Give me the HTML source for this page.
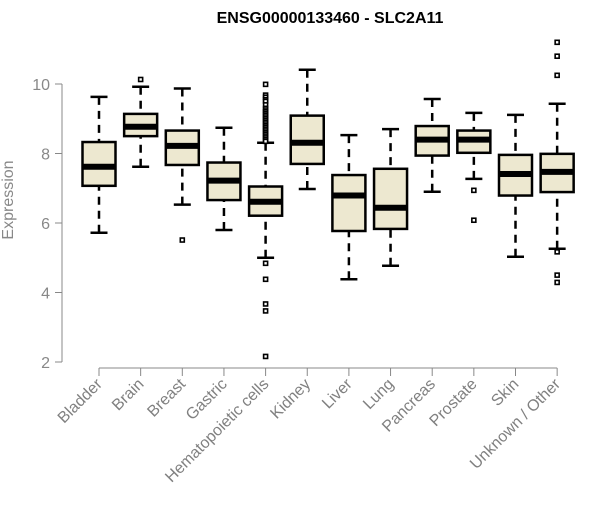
<!DOCTYPE html>
<html><head><meta charset="utf-8"><style>
body{margin:0;background:#fff;}
svg{font-family:"Liberation Sans",sans-serif;}
</style></head><body>
<svg id="chart" width="600" height="500">
<text x="330" y="23" text-anchor="middle" font-weight="bold" font-size="16">ENSG00000133460 - SLC2A11</text>
<text transform="translate(13,200) rotate(-90)" text-anchor="middle" font-size="16" fill="#888">Expression</text>
<g id="axes"></g><g id="marks"></g>
</svg>
<script>
const categories=["Bladder","Brain","Breast","Gastric","Hematopoietic cells","Kidney","Liver","Lung","Pancreas","Prostate","Skin","Unknown / Other"];
const whiskerLow=[5.72,7.62,6.53,5.8,5.0,6.98,4.38,4.77,6.9,7.27,5.03,5.26];
const q1=[7.07,8.5,7.67,6.66,6.21,7.7,5.77,5.83,7.94,8.02,6.79,6.89];
const medians=[7.62,8.77,8.22,7.22,6.61,8.31,6.79,6.44,8.4,8.4,7.41,7.47];
const q3=[8.33,9.14,8.66,7.74,7.05,9.09,7.38,7.56,8.79,8.66,7.96,7.99];
const whiskerHigh=[9.63,9.92,9.87,8.74,8.31,10.41,8.53,8.7,9.57,9.17,9.11,9.43];
const outliers=[[],[10.13],[5.51],[],[9.99,9.68,9.62,9.55,9.5,9.4,9.3,9.25,9.2,9.15,9.1,9.05,9.0,8.95,8.9,8.85,8.8,8.75,8.7,8.65,8.6,8.55,8.5,8.45,8.4,8.35,4.84,4.38,3.67,3.47,2.16],[],[],[],[],[6.94,6.08],[],[11.2,10.8,10.25,5.17,4.5,4.29]];
const yTicks=[2,4,6,8,10];
const NS="http://www.w3.org/2000/svg";
const y=v=>362-(v-2)*34.75;
const x=i=>99+i*41.65;
function mk(parent,tag,attrs){const e=document.createElementNS(NS,tag);for(const k in attrs)e.setAttribute(k,attrs[k]);parent.appendChild(e);return e;}
const axes=document.getElementById('axes'),marks=document.getElementById('marks');
let ya=mk(axes,'line',{x1:62,x2:62,y1:y(2),y2:y(10),stroke:'#888'});


yTicks.forEach(t=>{
  let l=mk(axes,'line',{x1:55,x2:62,y1:y(t),y2:y(t),stroke:'#888'});
  
  
  let tx=mk(axes,'text',{x:50,y:y(t)+6,'text-anchor':'end','font-size':16,fill:'#888'});
  tx.textContent=t;
  
  
});
let xa=mk(axes,'line',{x1:x(0),x2:x(11),y1:368,y2:368,stroke:'#888'});


categories.forEach((c,i)=>{
  const cx=x(i);
  let t=mk(axes,'line',{x1:cx,x2:cx,y1:368,y2:376,stroke:'#888'});
  
  
  let tx=mk(axes,'text',{transform:`translate(${cx+4},${385}) rotate(-45)`,'text-anchor':'end','font-size':16,fill:'#808080'});
  tx.textContent=c;
  
  
  const g=mk(marks,'g',{});
  
  
  mk(g,'line',{x1:cx,x2:cx,y1:y(whiskerHigh[i]),y2:y(q3[i]),stroke:'#000','stroke-width':2.5,'stroke-dasharray':'8,6'});
  mk(g,'line',{x1:cx,x2:cx,y1:y(whiskerLow[i]),y2:y(q1[i]),stroke:'#000','stroke-width':2.5,'stroke-dasharray':'8,6'});
  mk(g,'line',{x1:cx-8.5,x2:cx+8.5,y1:y(whiskerHigh[i]),y2:y(whiskerHigh[i]),stroke:'#000','stroke-width':2.5});
  mk(g,'line',{x1:cx-8.5,x2:cx+8.5,y1:y(whiskerLow[i]),y2:y(whiskerLow[i]),stroke:'#000','stroke-width':2.5});
  mk(g,'rect',{x:cx-16.5,y:y(q3[i]),width:33,height:y(q1[i])-y(q3[i]),fill:'#ede8d0',stroke:'#000','stroke-width':2.5});
  mk(g,'line',{x1:cx-16.5,x2:cx+16.5,y1:y(medians[i]),y2:y(medians[i]),stroke:'#000','stroke-width':6});
  outliers[i].forEach(v=>{
    let p=mk(g,'rect',{x:cx-2,y:y(v)-2,width:4,height:4,fill:'#fff',stroke:'#000','stroke-width':1.6});
    
    
  });
});
</script>
</body></html>
